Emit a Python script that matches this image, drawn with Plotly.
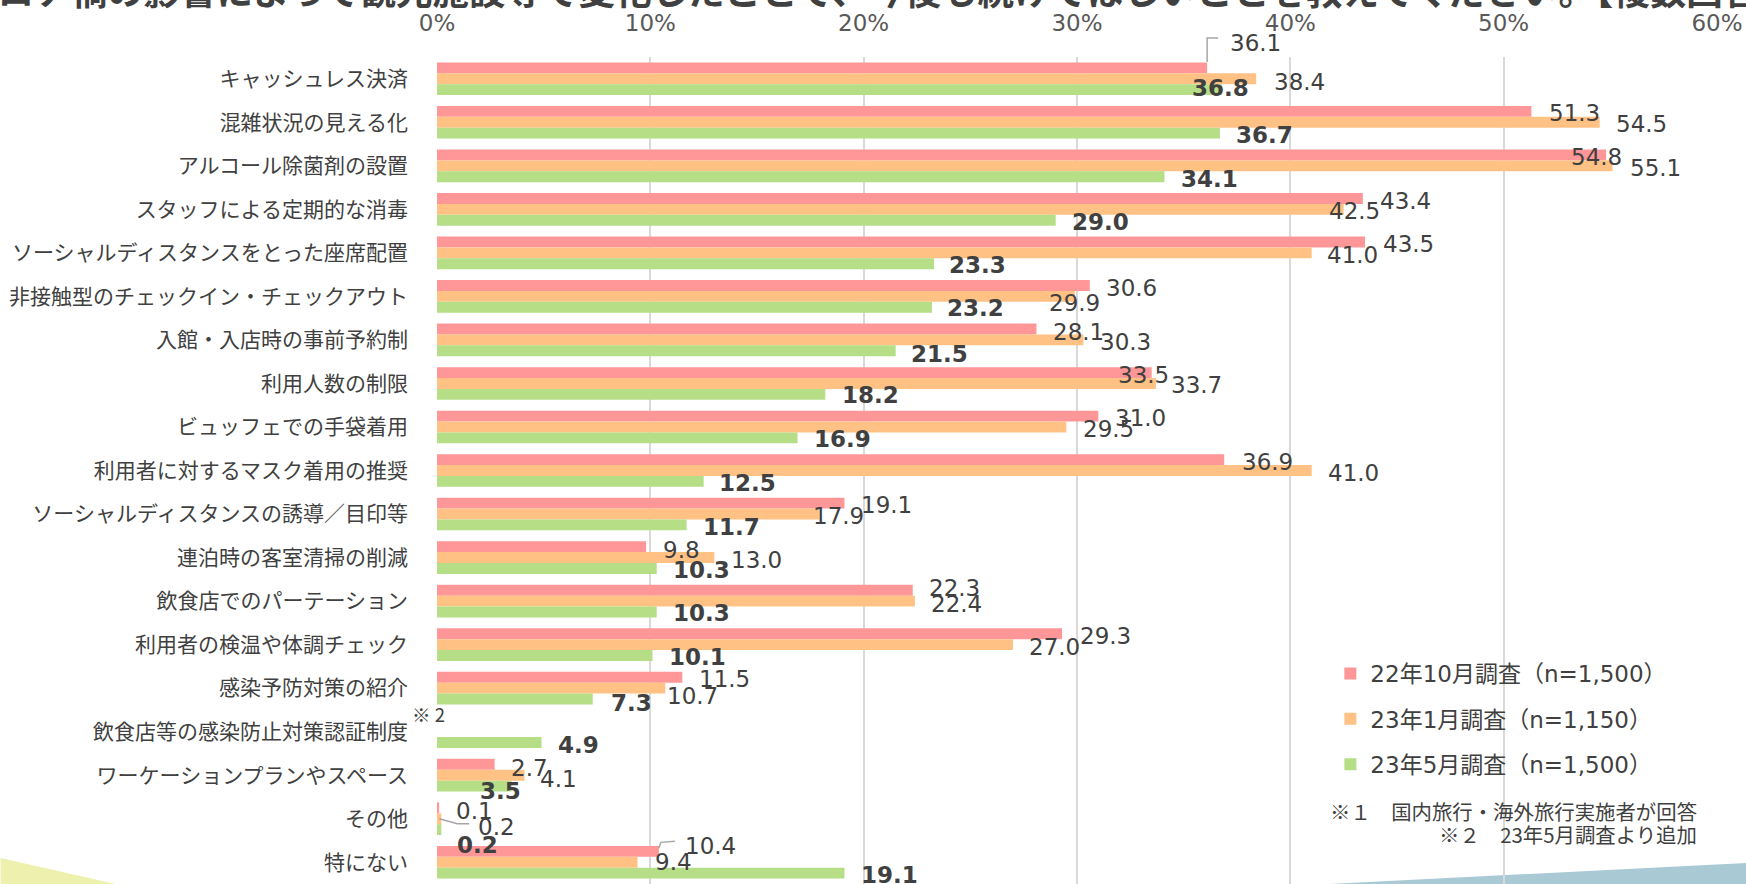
import plotly.graph_objects as go

# ---------------- data ----------------
categories = [
    "キャッシュレス決済",
    "混雑状況の見える化",
    "アルコール除菌剤の設置",
    "スタッフによる定期的な消毒",
    "ソーシャルディスタンスをとった座席配置",
    "非接触型のチェックイン・チェックアウト",
    "入館・入店時の事前予約制",
    "利用人数の制限",
    "ビュッフェでの手袋着用",
    "利用者に対するマスク着用の推奨",
    "ソーシャルディスタンスの誘導／目印等",
    "連泊時の客室清掃の削減",
    "飲食店でのパーテーション",
    "利用者の検温や体調チェック",
    "感染予防対策の紹介",
    "飲食店等の感染防止対策認証制度",
    "ワーケーションプランやスペース",
    "その他",
    "特にない",
]
oct22 = [36.1, 51.3, 54.8, 43.4, 43.5, 30.6, 28.1, 33.5, 31.0, 36.9, 19.1, 9.8, 22.3, 29.3, 11.5, None, 2.7, 0.1, 10.4]
jan23 = [38.4, 54.5, 55.1, 42.5, 41.0, 29.9, 30.3, 33.7, 29.5, 41.0, 17.9, 13.0, 22.4, 27.0, 10.7, None, 4.1, 0.2, 9.4]
may23 = [36.8, 36.7, 34.1, 29.0, 23.3, 23.2, 21.5, 18.2, 16.9, 12.5, 11.7, 10.3, 10.3, 10.1, 7.3, 4.9, 3.5, 0.2, 19.1]
series_names = ["22年10月調査（n=1,500）", "23年1月調査（n=1,150）", "23年5月調査（n=1,500）"]
tick_values = [0, 10, 20, 30, 40, 50, 60]
tick_labels = ["0%", "10%", "20%", "30%", "40%", "50%", "60%"]
title_text = "コロナ禍の影響によって観光施設等で変化したことで、今後も続けてほしいことを教えてください。【複数回答】"
note_lines = ["※１　国内旅行・海外旅行実施者が回答", "※２　23年5月調査より追加"]
note_mark_text = "※ 2"

# ---------------- styling / geometry ----------------
W, H = 1746, 884
L, R, T, B = 436.5, 29.3, 57, 0
PW, PH = W - L - R, H - T - B
N = len(categories)
BARGAP = 0.25
CAT_H = PH / N
BAR_H = CAT_H * (1 - BARGAP) / 3
colors = ["#ff9697", "#ffc184", "#b5de87"]
TXT = "#404040"
NUM_FONT = "DejaVu Sans, Verdana, Noto Sans CJK JP"
JP_FONT = "Noto Sans CJK JP, Noto Sans, sans-serif"


def px_x(px):
    return (px - L) / PW


def px_y(py):
    return (H - B - py) / PH


def cat_paper(i):
    # paper-y of the centre of category i (axis runs top -> bottom)
    return 1 - (i + 0.5) / N


# label centre offsets (px) from (bar end, bar centre); screen coords, +dy = down
offsets = [
    [(48, -25), (43, 2), (-10, 2), (43, 3), (43, 2), (42, 2), (42, 3), (-8, 2), (42, 2), (43, 2),
     (42, 2), (35, 3), (42, -2), (43, 2), (42, 2), None, (35, 4), (35, 3), (52, -5)],
    [(43, 3), (42, 2), (43, 2), (11, 2), (41, 2), (0, 7), (42, 2), (41, 2), (42, 2), (42, 2),
     (20, 2), (42, 2), (42, 3), (41, 2), (27, 8), None, (34, 4), (55, 8), (36, 0)],
    [(-2, -2), (45, 2), (45, 2), (45, 2), (43, 1), (44, 1), (44, 3), (45, 1), (45, 1), (44, 2),
     (45, 2), (45, 2), (45, 1), (45, 2), (39, 4), (37, 2), (-11, 5), (36, 15), (45, 2)],
]

fig = go.Figure()
for name, vals, col in zip(series_names, [oct22, jan23, may23], colors):
    fig.add_trace(go.Bar(
        y=categories, x=vals, name=name, orientation="h",
        marker=dict(color=col, line=dict(width=0)),
        legendgroup=name, hoverinfo="skip",
    ))

annotations = []
bar_offsets = [-BAR_H, 0, BAR_H]
for s, vals in enumerate([oct22, jan23, may23]):
    for i, v in enumerate(vals):
        if v is None:
            continue
        dx, dy = offsets[s][i]
        annotations.append(dict(
            x=v, y=categories[i], xref="x", yref="y",
            text=f"{v:.1f}", showarrow=False,
            xanchor="center", yanchor="middle",
            xshift=dx, yshift=-(bar_offsets[s] + dy),
            font=dict(family=NUM_FONT, size=23, color=TXT, weight=700 if s == 2 else 400),
        ))

# superscript mark beside category label
annotations.append(dict(
    x=px_x(428), y=categories[15], xref="paper", yref="y", text=note_mark_text,
    showarrow=False, xanchor="center", yanchor="middle", yshift=18,
    font=dict(family=JP_FONT, size=18.5, color=TXT),
))
# footnotes
for k, (line, py) in enumerate(zip(note_lines, [811, 834])):
    annotations.append(dict(
        x=px_x(1699), y=px_y(py), xref="paper", yref="paper", text=line,
        showarrow=False, xanchor="right", yanchor="middle",
        font=dict(family=JP_FONT, size=20.4, color=TXT),
    ))
# clipped title at the very top
annotations.append(dict(
    x=px_x(-42), y=1, xref="paper", yref="paper", text=title_text,
    showarrow=False, xanchor="left", yanchor="middle", yshift=T + 11,
    font=dict(family=JP_FONT, size=36.5, color=TXT, weight=700),
))

shapes = [
    # decorative background bands
    dict(type="path", xref="paper", yref="paper", layer="below",
         path=f"M{px_x(0)},{px_y(858)} L{px_x(115)},{px_y(884)} L{px_x(0)},{px_y(884)} Z",
         fillcolor="#eef1ad", line=dict(width=0)),
    dict(type="path", xref="paper", yref="paper", layer="below",
         path=f"M{px_x(1329)},{px_y(884)} L{px_x(1746)},{px_y(863)} L{px_x(1746)},{px_y(884)} Z",
         fillcolor="#a9cad5", line=dict(width=0)),
]
# leader lines (pixel paths anchored at bar ends; +y = up)
leaders = [
    (0, oct22[0], -BAR_H, [(0, 6), (0, 30), (11, 30)]),
    (17, jan23[17], 0, [(-2, 0), (16, -5), (28, -5)]),
    (18, oct22[18], -BAR_H, [(0, 3), (2, 9), (16, 10)]),
]
for ci, v, boff, pts in leaders:
    path = " ".join(("M" if j == 0 else "L") + f"{px},{py - boff}" for j, (px, py) in enumerate(pts))
    shapes.append(dict(type="path", xref="x", yref="paper", xsizemode="pixel", ysizemode="pixel",
                       xanchor=v, yanchor=cat_paper(ci), path=path,
                       line=dict(color="#a6a6a6", width=1.5)))

fig.update_layout(
    width=W, height=H,
    margin=dict(l=L, r=R, t=T, b=B, autoexpand=False),
    paper_bgcolor="white", plot_bgcolor="rgba(0,0,0,0)",
    barmode="group", bargap=BARGAP, bargroupgap=0,
    showlegend=True,
    legend=dict(
        x=px_x(1330), y=px_y(652), xanchor="left", yanchor="top",
        traceorder="grouped", tracegroupgap=12.5, bgcolor="rgba(0,0,0,0)",
        font=dict(family=NUM_FONT, size=23, color=TXT),
    ),
    xaxis=dict(
        side="top", range=[0, 60], tickmode="array", tickvals=tick_values, ticktext=tick_labels,
        showgrid=True, gridcolor="#d9d9d9", gridwidth=2, zeroline=False, showline=False,
        ticks="", ticklabelstandoff=20,
        tickfont=dict(family=NUM_FONT, size=23, color="#595959"),
    ),
    yaxis=dict(
        type="category", categoryorder="array", categoryarray=categories,
        range=[N - 0.5, -0.5], showgrid=False, zeroline=False, showline=False,
        ticks="", ticklabelstandoff=28,
        tickfont=dict(family=JP_FONT, size=21, color=TXT),
    ),
    annotations=annotations, shapes=shapes,
    hovermode=False,
)

fig.write_html("out.html", config={"displayModeBar": False},
               post_script="document.body.style.margin='0';document.body.style.overflow='hidden';")
